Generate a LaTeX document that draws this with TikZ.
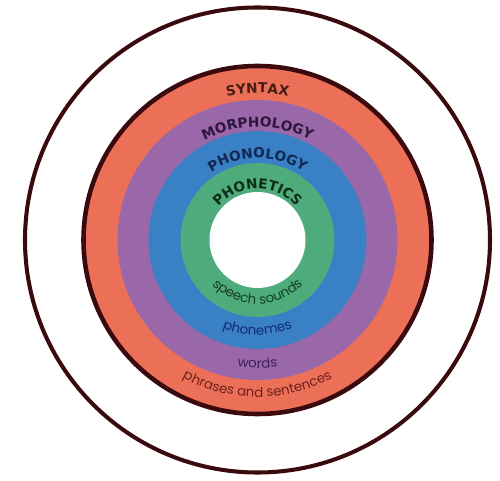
\documentclass[tikz,border=0pt]{standalone}
\usepackage{fontspec}
\newfontfamily\capsfont{DejaVu Sans}
\newfontfamily\wordfont{Poppins}
\usetikzlibrary{decorations.text}

\definecolor{edgebrown}{RGB}{59,10,14}
\definecolor{ringred}{RGB}{236,112,88}
\definecolor{ringpurple}{RGB}{154,104,168}
\definecolor{ringblue}{RGB}{58,128,196}
\definecolor{ringgreen}{RGB}{78,172,124}
\definecolor{syntaxtxt}{RGB}{70,28,20}
\definecolor{morphtxt}{RGB}{45,22,62}
\definecolor{phontxt}{RGB}{18,40,84}
\definecolor{phonettxt}{RGB}{14,44,24}
\definecolor{soundtxt}{RGB}{20,62,32}
\definecolor{phonemetxt}{RGB}{20,42,112}
\definecolor{wordtxt}{RGB}{62,30,84}
\definecolor{phrasetxt}{RGB}{112,30,28}

\tikzset{
  toplabel/.style 2 args={decorate,
    decoration={text along path, text align=center,
      text={|\capsfont\bfseries\fontsize{7.8}{9}\selectfont\color{#1}|#2}}},
  botlabel/.style 2 args={decorate,
    decoration={text along path, text align=center,
      text={|\wordfont\fontsize{7.6}{9}\selectfont\color{#1}|#2}}}
}

\begin{document}
\begin{tikzpicture}[x=0.02cm,y=0.02cm]
    \useasboundingbox (0,0) rectangle (500,480);
    \coordinate (c) at (257.5,240);

    \draw[edgebrown,line width=2.3pt] (c) circle (232.5);
    \fill[ringred] (c) circle (174);
    \fill[ringpurple] (c) circle (140);
    \fill[ringblue] (c) circle (109);
    \fill[ringgreen] (c) circle (77);
    \fill[white] (c) circle (48);
    \draw[edgebrown,line width=2.6pt] (c) circle (174);

    \path[toplabel={syntaxtxt}{SYNTAX}] (c) ++(170:147) arc (170:10:147);
    \path[toplabel={morphtxt}{MORPHOLOGY}] (c) ++(170:113) arc (170:10:113);
    \path[toplabel={phontxt}{PHONOLOGY}] (c) ++(170:82) arc (170:10:82);
    \path[toplabel={phonettxt}{PHONETICS}] (c) ++(170:51) arc (170:10:51);

    \path[botlabel={soundtxt}{speech sounds}] (c) ++(190:64) arc (190:350:64);
    \path[botlabel={phonemetxt}{phonemes}] (c) ++(190:95) arc (190:350:95);
    \path[botlabel={wordtxt}{words}] (c) ++(190:128) arc (190:350:128);
    \path[botlabel={phrasetxt}{phrases and sentences}] (c) ++(190:157) arc (190:350:157);
\end{tikzpicture}
\end{document}
